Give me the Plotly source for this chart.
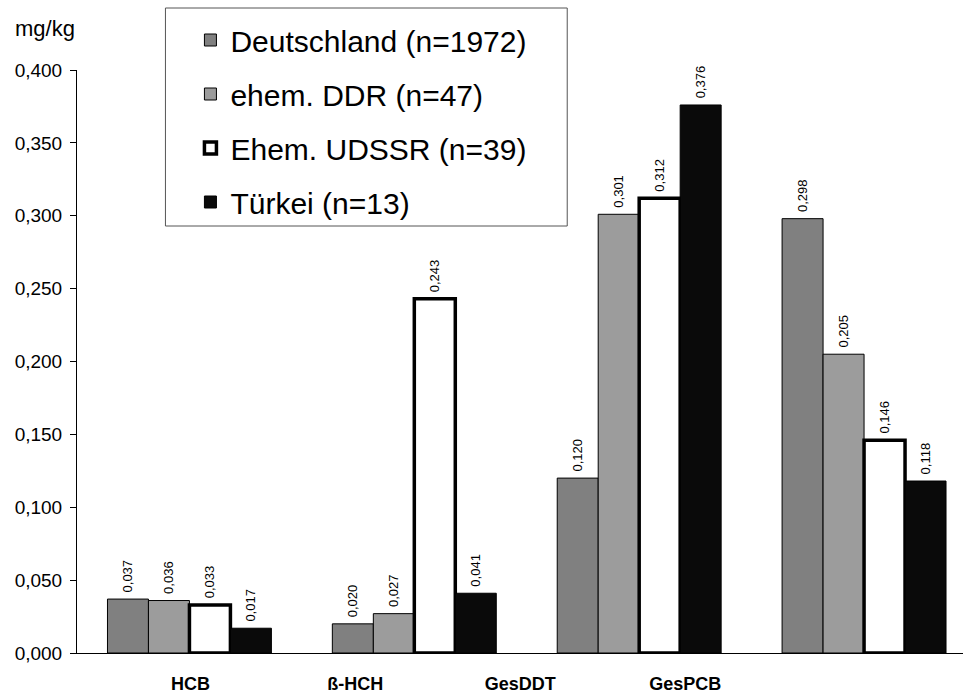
import plotly.graph_objects as go

categories = ["HCB", "ß-HCH", "GesDDT", "GesPCB"]
series_names = ["Deutschland (n=1972)", "ehem. DDR (n=47)", "Ehem. UDSSR (n=39)", "Türkei (n=13)"]
deutschland = [0.037, 0.020, 0.120, 0.298]
ehem_ddr = [0.036, 0.027, 0.301, 0.205]
ehem_udssr = [0.033, 0.243, 0.312, 0.146]
tuerkei = [0.017, 0.041, 0.376, 0.118]
y_ticks = [0.0, 0.05, 0.10, 0.15, 0.20, 0.25, 0.30, 0.35, 0.40]

series_values = [deutschland, ehem_ddr, ehem_udssr, tuerkei]
fills = ["#808080", "#9c9c9c", "#ffffff", "#0a0a0a"]
line_widths = [1, 1, 3.5, 1]

W, H = 963, 693
L, R, T, B = 76.5, 0, 70, 40
plot_w = W - L - R
plot_h = H - T - B
cat_px = 225.0
x_range = [-0.5, -0.5 + plot_w / cat_px]

def px_to_x(px):
    return (px - L) / cat_px - 0.5

def pxx(px):
    return (px - L) / plot_w

def pxy(py):
    return 1 + (T - py) / plot_h

# category label positions as in the reference (offset from the bar groups)
label_px = [190, 355, 520, 685]
label_pos = [px_to_x(p) for p in label_px]

xs = list(range(len(categories)))

fig = go.Figure()
for name, vals, fc, lw in zip(series_names, series_values, fills, line_widths):
    fig.add_trace(go.Bar(
        x=xs, y=vals, name=name, legendgroup=name,
        marker=dict(color=fc, line=dict(color="#000000", width=lw)),
        text=["\u00a0" + f"{v:.3f}".replace(".", ",") for v in vals],
        textposition="outside", textangle=-90,
        textfont=dict(family="Liberation Sans, Arial", size=13, color="#000000"),
        cliponaxis=False,
    ))

fig.update_layout(
    width=W, height=H,
    margin=dict(l=L, r=R, t=T, b=B, pad=0, autoexpand=False),
    paper_bgcolor="white", plot_bgcolor="white",
    barmode="group", bargap=0.271, bargroupgap=0,
    separators=",.",
    font=dict(family="Liberation Sans, Arial", color="#000000"),
    showlegend=True,
    legend=dict(
        x=pxx(190), y=pxy(14), xanchor="left", yanchor="top",
        bgcolor="rgba(0,0,0,0)", borderwidth=0,
        font=dict(family="Liberation Sans, Arial", size=30, color="#000000"),
        tracegroupgap=12, traceorder="grouped",
    ),
    xaxis=dict(
        range=x_range, showgrid=False, zeroline=False, automargin=False,
        showline=True, linecolor="#000000", linewidth=1,
        tickmode="array", tickvals=label_pos, ticktext=[f"<b>{c}</b>" for c in categories],
        ticks="", tickfont=dict(family="Liberation Sans, Arial", size=18, color="#000000"),
        ticklabelstandoff=14,
    ),
    yaxis=dict(
        range=[0, 0.4], showgrid=False, zeroline=False, automargin=False,
        showline=True, linecolor="#000000", linewidth=1,
        tickmode="array", tickvals=y_ticks, tickformat=".3f",
        ticks="outside", ticklen=6, tickcolor="#000000",
        tickfont=dict(family="Liberation Sans, Arial", size=19, color="#000000"),
        ticklabelstandoff=4,
    ),
    shapes=[dict(
        type="rect", xref="paper", yref="paper",
        x0=pxx(165), x1=pxx(567), y0=pxy(226), y1=pxy(8),
        line=dict(color="#555555", width=1), fillcolor="white", layer="below",
    )],
    annotations=[dict(
        text="mg/kg", xref="paper", yref="paper",
        x=pxx(12), y=pxy(28), xanchor="left", yanchor="middle",
        showarrow=False, font=dict(family="Liberation Sans, Arial", size=22, color="#000000"),
    )],
)

fig.write_html("out.html", config={"displayModeBar": False},
               post_script="document.body.style.margin='0';")
